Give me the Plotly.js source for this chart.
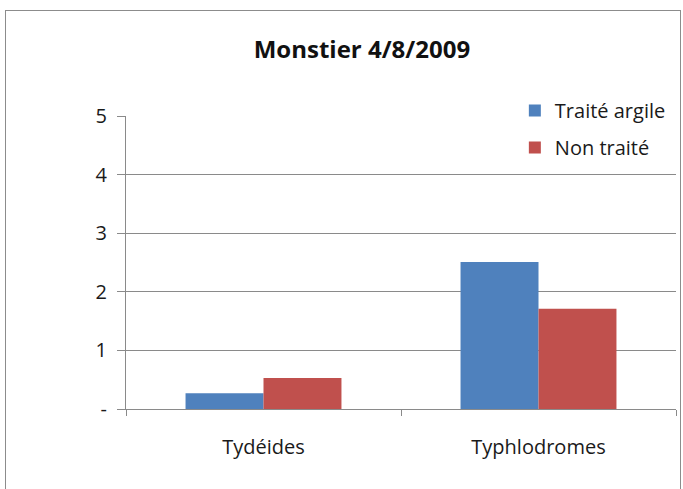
<!DOCTYPE html>
<html>
<head>
<meta charset="utf-8">
<script src="https://cdn.plot.ly/plotly-3.0.1.min.js"></script>
<style>
  html, body { margin:0; padding:0; background:#fff; }
  #frame { position:absolute; left:5px; top:10px; width:676px; height:500px; border:1px solid #8c8c8c; box-sizing:border-box; }
  #chart { position:absolute; left:0; top:0; width:683px; height:489px; }
</style>
</head>
<body>
<div id="frame"></div>
<div id="chart"></div>
<script>
const categories = ["Tydéides", "Typhlodromes"];
const seriesNames = ["Traité argile", "Non traité"];
const traiteArgile = [0.27, 2.51];
const nonTraite = [0.53, 1.71];
const yTickVals = [0, 1, 2, 3, 4, 5];
const yTickText = ["-", "1", "2", "3", "4", "5"];
const titleText = "Monstier 4/8/2009";

const font = "'Open Sans', Lato, 'DejaVu Sans', sans-serif";

const data = [
  { type: "bar", x: categories, y: traiteArgile, name: seriesNames[0],
    marker: { color: "#4F81BD" }, legendgroup: "a" },
  { type: "bar", x: categories, y: nonTraite, name: seriesNames[1],
    marker: { color: "#C0504D" }, legendgroup: "b" }
];

const layout = {
  width: 683, height: 489,
  paper_bgcolor: "rgba(0,0,0,0)",
  plot_bgcolor: "rgba(0,0,0,0)",
  margin: { l: 126, r: 7, t: 116, b: 80 },
  barmode: "group",
  bargap: 0.433,
  bargroupgap: 0,
  font: { family: font, size: 20, color: "#1a1a1a" },
  title: { text: "<b>" + titleText + "</b>", x: 0.429, xref: "paper", xanchor: "center",
           y: 0.898, yanchor: "middle", font: { family: font, size: 24, color: "#111" } },
  showlegend: true,
  legend: { x: 0.707, y: 1.085, xanchor: "left", yanchor: "top",
            bgcolor: "rgba(0,0,0,0)", font: { family: font, size: 20, color: "#1a1a1a" },
            traceorder: "grouped", tracegroupgap: 8, itemwidth: 30 },
  xaxis: {
    type: "category",
    showline: true, linecolor: "#8a8a8a", linewidth: 1,
    ticks: "outside", tickson: "boundaries", ticklen: 6, tickcolor: "#8a8a8a",
    showgrid: false, zeroline: false,
    tickfont: { family: font, size: 20, color: "#1a1a1a" },
    ticklabelstandoff: 20
  },
  yaxis: {
    range: [0, 5],
    tickvals: yTickVals, ticktext: yTickText,
    showline: true, linecolor: "#8a8a8a", linewidth: 1,
    ticks: "outside", ticklen: 8, tickcolor: "#8a8a8a",
    showgrid: true, gridcolor: "#8a8a8a", gridwidth: 1,
    zeroline: false,
    tickfont: { family: font, size: 20, color: "#1a1a1a" },
    ticklabelstandoff: 6
  }
};

Plotly.newPlot("chart", data, layout, { displayModeBar: false, staticPlot: true });
</script>
</body>
</html>
